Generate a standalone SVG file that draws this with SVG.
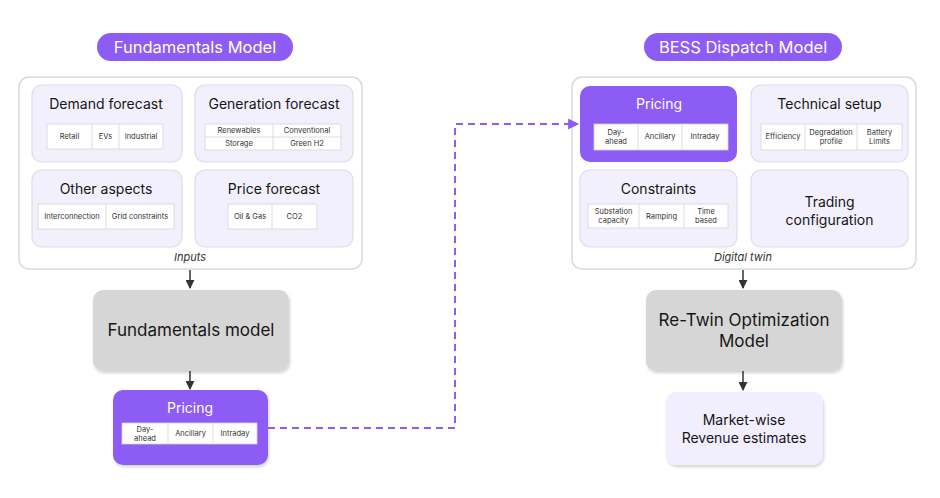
<svg xmlns="http://www.w3.org/2000/svg" width="940" height="498" viewBox="0 0 940 498">
<defs>
<style>
text{font-family:"Inter","Noto Sans","Liberation Sans",sans-serif;text-anchor:middle;dominant-baseline:central}
.pill{fill:#8c5cf5}
.pillt{fill:#fff;font-size:16.5px}
.outer{fill:#fff;stroke:#d9d9d9;stroke-width:1.5}
.card{fill:#f3f0fd;stroke:#dedce6;stroke-width:1.2}
.pcard{fill:#8c5cf5}
.ct{fill:#161616;font-size:14px}
.pt{fill:#fff;font-size:14px}
.tbl{fill:#fff;stroke:#d4d4d8;stroke-width:0.8}
.tl{stroke:#d4d4d8;stroke-width:0.8}
.st{fill:#333;font-size:7.5px}
.cap{fill:#333;font-size:11px;font-style:italic}
.gray{fill:#d6d6d6}
.gt{fill:#161616;font-size:17px}
.mk{fill:#f1eefd}
.mt{fill:#161616;font-size:14px}
.arr{stroke:#333;stroke-width:1.5;fill:none}
.dash{stroke:#8c5cf5;stroke-width:2;fill:none;stroke-dasharray:7 5}
</style>
<marker id="ah" viewBox="0 0 10 10" refX="9" refY="5" markerWidth="6" markerHeight="6" orient="auto"><path d="M0 0L10 5L0 10z" fill="#333"/></marker>
<marker id="ap" viewBox="0 0 10 10" refX="9" refY="5" markerWidth="5.5" markerHeight="5.5" orient="auto"><path d="M0 0L10 5L0 10z" fill="#8c5cf5"/></marker>
<filter id="sh" x="-10%" y="-10%" width="120%" height="130%"><feDropShadow dx="1" dy="2" stdDeviation="1.5" flood-color="#000" flood-opacity="0.18"/></filter>
</defs>

<g id="title-fundamentals">
<rect class="pill" x="97" y="33" width="196" height="28" rx="14"/>
<text class="pillt" x="195" y="47">Fundamentals Model</text>
</g>
<g id="title-bess">
<rect class="pill" x="644" y="33" width="198" height="28" rx="14"/>
<text class="pillt" x="743" y="47">BESS Dispatch Model</text>
</g>

<g id="inputs">
<rect class="outer" x="19" y="77" width="343" height="192" rx="10"/>
<text class="cap" x="190" y="257">Inputs</text>
</g>

<g id="demand-forecast">
<rect class="card" x="32" y="85" width="150" height="77" rx="10"/>
<text class="ct" x="106" y="103">Demand forecast</text>
<rect class="tbl" x="47" y="124" width="116" height="25"/>
<line class="tl" x1="92" y1="124" x2="92" y2="149"/>
<line class="tl" x1="119" y1="124" x2="119" y2="149"/>
<text class="st" x="69.5" y="136.5">Retail</text>
<text class="st" x="105.5" y="136.5">EVs</text>
<text class="st" x="141" y="136.5">Industrial</text>
</g>

<g id="generation-forecast">
<rect class="card" x="195" y="85" width="158" height="77" rx="10"/>
<text class="ct" x="274" y="103">Generation forecast</text>
<rect class="tbl" x="205" y="124" width="136" height="26"/>
<line class="tl" x1="205" y1="137" x2="341" y2="137"/>
<line class="tl" x1="273" y1="124" x2="273" y2="150"/>
<text class="st" x="239" y="130.5">Renewables</text>
<text class="st" x="307" y="130.5">Conventional</text>
<text class="st" x="239" y="143.5">Storage</text>
<text class="st" x="307" y="143.5">Green H2</text>
</g>

<g id="other-aspects">
<rect class="card" x="32" y="170" width="150" height="77" rx="10"/>
<text class="ct" x="106" y="188">Other aspects</text>
<rect class="tbl" x="38" y="204" width="136" height="25"/>
<line class="tl" x1="106" y1="204" x2="106" y2="229"/>
<text class="st" x="72" y="216.5">Interconnection</text>
<text class="st" x="140" y="216.5">Grid constraints</text>
</g>

<g id="price-forecast">
<rect class="card" x="195" y="170" width="158" height="77" rx="10"/>
<text class="ct" x="274" y="188">Price forecast</text>
<rect class="tbl" x="228" y="204" width="89" height="25"/>
<line class="tl" x1="272" y1="204" x2="272" y2="229"/>
<text class="st" x="250" y="216.5">Oil &amp; Gas</text>
<text class="st" x="294.5" y="216.5">CO2</text>
</g>

<g id="fundamentals-model">
<rect class="gray" x="93" y="290" width="196" height="81" rx="10" filter="url(#sh)"/>
<text class="gt" x="191" y="330">Fundamentals model</text>
</g>

<g id="pricing-output">
<rect class="pcard" x="113" y="390" width="155" height="75" rx="10" filter="url(#sh)"/>
<text class="pt" x="190" y="407">Pricing</text>
<rect class="tbl" x="122" y="423" width="135" height="21"/>
<line class="tl" x1="168" y1="423" x2="168" y2="444"/>
<line class="tl" x1="213" y1="423" x2="213" y2="444"/>
<text class="st" x="145" y="429">Day-</text>
<text class="st" x="145" y="438">ahead</text>
<text class="st" x="190.5" y="433.5">Ancillary</text>
<text class="st" x="235" y="433.5">Intraday</text>
</g>

<g id="digital-twin">
<rect class="outer" x="572" y="77" width="344" height="192" rx="10"/>
<text class="cap" x="743" y="257">Digital twin</text>
</g>

<g id="pricing-input">
<rect class="pcard" x="580" y="86" width="157" height="76" rx="10"/>
<text class="pt" x="659" y="103">Pricing</text>
<rect class="tbl" x="594" y="124" width="134" height="26"/>
<line class="tl" x1="638" y1="124" x2="638" y2="150"/>
<line class="tl" x1="682" y1="124" x2="682" y2="150"/>
<text class="st" x="616" y="132">Day-</text>
<text class="st" x="616" y="141">ahead</text>
<text class="st" x="660" y="136.5">Ancillary</text>
<text class="st" x="705" y="136.5">Intraday</text>
</g>

<g id="technical-setup">
<rect class="card" x="751" y="85" width="157" height="77" rx="10"/>
<text class="ct" x="829.5" y="103">Technical setup</text>
<rect class="tbl" x="761" y="124" width="141" height="26"/>
<line class="tl" x1="805" y1="124" x2="805" y2="150"/>
<line class="tl" x1="857" y1="124" x2="857" y2="150"/>
<text class="st" x="783" y="136.5">Efficiency</text>
<text class="st" x="831" y="132">Degradation</text>
<text class="st" x="831" y="141">profile</text>
<text class="st" x="879.5" y="132">Battery</text>
<text class="st" x="879.5" y="141">Limits</text>
</g>

<g id="constraints">
<rect class="card" x="580" y="170" width="157" height="77" rx="10"/>
<text class="ct" x="658.5" y="188">Constraints</text>
<rect class="tbl" x="588" y="204" width="140" height="24"/>
<line class="tl" x1="639" y1="204" x2="639" y2="228"/>
<line class="tl" x1="684" y1="204" x2="684" y2="228"/>
<text class="st" x="613.5" y="211.5">Substation</text>
<text class="st" x="613.5" y="220.5">capacity</text>
<text class="st" x="661.5" y="216">Ramping</text>
<text class="st" x="706" y="211.5">Time</text>
<text class="st" x="706" y="220.5">based</text>
</g>

<g id="trading-configuration">
<rect class="card" x="751" y="170" width="157" height="77" rx="10"/>
<text class="ct" x="829.5" y="201">Trading</text>
<text class="ct" x="829.5" y="219">configuration</text>
</g>

<g id="retwin-model">
<rect class="gray" x="646" y="290" width="196" height="81" rx="10" filter="url(#sh)"/>
<text class="gt" x="744" y="320">Re-Twin Optimization</text>
<text class="gt" x="744" y="341">Model</text>
</g>

<g id="revenue-estimates">
<rect class="mk" x="666" y="392" width="157" height="73" rx="10" filter="url(#sh)"/>
<text class="mt" x="744" y="419">Market-wise</text>
<text class="mt" x="744" y="437">Revenue estimates</text>
</g>

<g id="connectors">
<line class="arr" x1="190" y1="270" x2="190" y2="288" marker-end="url(#ah)"/>
<line class="arr" x1="190" y1="371" x2="190" y2="389" marker-end="url(#ah)"/>
<line class="arr" x1="743" y1="270" x2="743" y2="288" marker-end="url(#ah)"/>
<line class="arr" x1="743" y1="371" x2="743" y2="390" marker-end="url(#ah)"/>
<path class="dash" d="M268 428H455V124H578" marker-end="url(#ap)"/>
</g>
</svg>
